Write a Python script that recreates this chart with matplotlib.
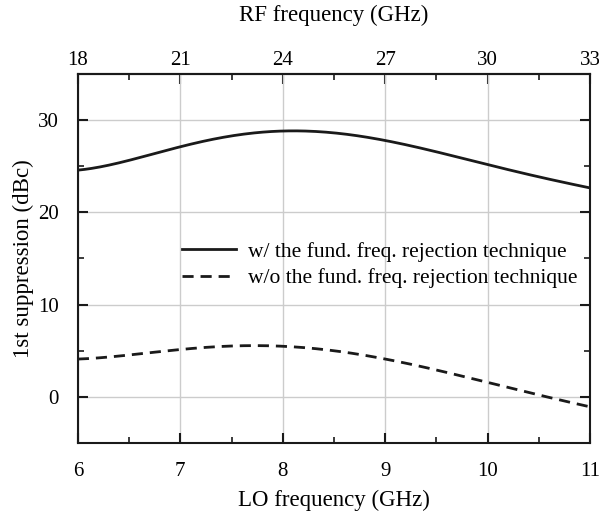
import numpy as np
import matplotlib.pyplot as plt
from matplotlib.ticker import MultipleLocator

plt.rcParams['font.family'] = ['Liberation Serif', 'DejaVu Serif']

# LO frequency (GHz) and 1st suppression (dBc)
lo_freq = [6.0, 6.5, 7.0, 7.5, 8.0, 8.2, 8.5, 9.0, 9.5, 10.0, 10.5, 11.0]
with_tech = [24.5, 25.8, 27.0, 28.05, 28.85, 28.95, 28.7, 27.7, 26.4, 25.2, 23.9, 22.6]

lo_freq2 = [6.0, 6.5, 7.0, 7.5, 7.8, 8.0, 8.5, 9.0, 9.5, 10.0, 10.5, 11.0]
without_tech = [4.07, 4.6, 5.08, 5.45, 5.55, 5.5, 5.05, 4.1, 2.85, 1.55, 0.25, -1.1]

# smooth through the read points
xs = np.linspace(6, 11, 300)
c1 = np.polyfit(lo_freq, with_tech, 5)
c2 = np.polyfit(lo_freq2, without_tech, 5)

fig = plt.figure(figsize=(5.99, 5.23), dpi=100)
ax = fig.add_axes([0.130, 0.153, 0.855, 0.706])

ax.plot(xs, np.polyval(c1, xs), color='#1a1a1a', lw=2.0,
        label='w/ the fund. freq. rejection technique')
ax.plot(xs, np.polyval(c2, xs), color='#1a1a1a', lw=2.0, ls=(0, (4, 2.5)),
        label='w/o the fund. freq. rejection technique')

ax.set_xlim(6, 11)
ax.set_ylim(-5, 35)
ax.xaxis.set_major_locator(MultipleLocator(1))
ax.xaxis.set_minor_locator(MultipleLocator(0.5))
ax.yaxis.set_major_locator(MultipleLocator(10))
ax.yaxis.set_minor_locator(MultipleLocator(5))
ax.grid(True, which='major', color='#cccccc', lw=1.0)
ax.set_axisbelow(True)

ax.tick_params(which='both', direction='in', labelsize=15, color='#1a1a1a',
               left=True, right=True, bottom=True, top=False)
ax.tick_params(axis='x', pad=14)
ax.tick_params(axis='y', pad=14)
ax.tick_params(which='major', length=7, width=1.5)
ax.tick_params(which='minor', length=4, width=1.2)
for s in ax.spines.values():
    s.set_linewidth(1.5)
    s.set_color('#1a1a1a')

ax.set_xlabel('LO frequency (GHz)', fontsize=16.5)
ax.set_ylabel('1st suppression (dBc)', fontsize=16.5)
ax.xaxis.set_label_coords(0.5, -0.127)
ax.yaxis.set_label_coords(-0.085, 0.5)

top = ax.secondary_xaxis('top', functions=(lambda x: 3 * x, lambda x: x / 3))
top.xaxis.set_major_locator(MultipleLocator(3))
top.xaxis.set_minor_locator(MultipleLocator(1.5))
top.tick_params(which='both', direction='in', labelsize=15, color='#1a1a1a', pad=3)
top.tick_params(which='major', length=7, width=1.5)
top.tick_params(which='minor', length=4, width=1.2)
top.spines['top'].set_linewidth(1.5)
top.set_xlabel('RF frequency (GHz)', fontsize=16.5, labelpad=21)

ax.legend(loc='center left', bbox_to_anchor=(0.165, 0.482), frameon=False,
          fontsize=15.5, handlelength=2.5, handletextpad=0.6, labelspacing=0.3)

fig.savefig('out.png', dpi=100)
